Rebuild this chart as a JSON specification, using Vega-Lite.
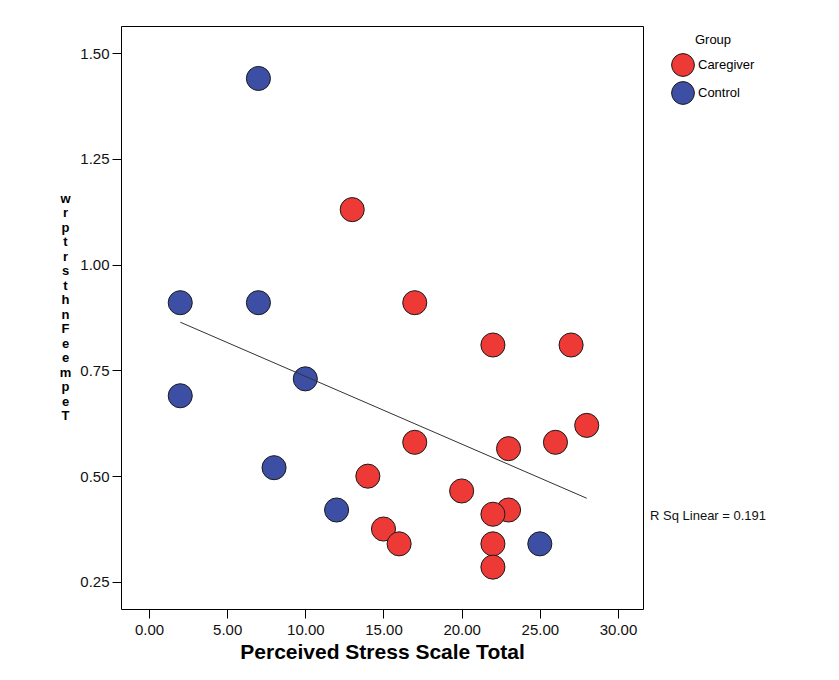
{
  "$schema": "https://vega.github.io/schema/vega-lite/v6.json",
  "autosize": {"type": "none"},
  "width": 522,
  "height": 583,
  "padding": {"left": 121, "top": 26, "right": 196, "bottom": 71},
  "background": "white",
  "config": {
    "font": "Liberation Sans",
    "view": {"stroke": "#000", "strokeWidth": 1}
  },
  "data": {
    "values": [
      {"pss": 7, "value": 1.44, "group": "Control"},
      {"pss": 2, "value": 0.91, "group": "Control"},
      {"pss": 7, "value": 0.91, "group": "Control"},
      {"pss": 10, "value": 0.73, "group": "Control"},
      {"pss": 2, "value": 0.69, "group": "Control"},
      {"pss": 8, "value": 0.52, "group": "Control"},
      {"pss": 12, "value": 0.42, "group": "Control"},
      {"pss": 25, "value": 0.34, "group": "Control"},
      {"pss": 13, "value": 1.13, "group": "Caregiver"},
      {"pss": 17, "value": 0.91, "group": "Caregiver"},
      {"pss": 22, "value": 0.81, "group": "Caregiver"},
      {"pss": 27, "value": 0.81, "group": "Caregiver"},
      {"pss": 17, "value": 0.58, "group": "Caregiver"},
      {"pss": 23, "value": 0.565, "group": "Caregiver"},
      {"pss": 26, "value": 0.58, "group": "Caregiver"},
      {"pss": 28, "value": 0.62, "group": "Caregiver"},
      {"pss": 14, "value": 0.5, "group": "Caregiver"},
      {"pss": 20, "value": 0.465, "group": "Caregiver"},
      {"pss": 23, "value": 0.42, "group": "Caregiver"},
      {"pss": 22, "value": 0.41, "group": "Caregiver"},
      {"pss": 15, "value": 0.375, "group": "Caregiver"},
      {"pss": 16, "value": 0.34, "group": "Caregiver"},
      {"pss": 22, "value": 0.34, "group": "Caregiver"},
      {"pss": 22, "value": 0.285, "group": "Caregiver"}
    ]
  },
  "layer": [
    {
      "mark": {"type": "point", "shape": "circle", "filled": true, "opacity": 1, "size": 580, "stroke": "#1a1a1a", "strokeWidth": 1},
      "encoding": {
        "x": {
          "field": "pss", "type": "quantitative",
          "scale": {"domain": [-1.79, 31.6], "nice": false, "zero": false},
          "axis": {
            "values": [0, 5, 10, 15, 20, 25, 30], "format": ".2f",
            "labelFontSize": 15, "labelColor": "#111", "labelPadding": 4,
            "tickSize": 9, "tickColor": "#000", "domain": false, "grid": false,
            "title": "Perceived Stress Scale Total", "titleFontSize": 21, "titleFontWeight": "bold",
            "titleColor": "#000", "titlePadding": 4
          }
        },
        "y": {
          "field": "value", "type": "quantitative",
          "scale": {"domain": [0.186, 1.564], "nice": false, "zero": false},
          "axis": {
            "values": [0.25, 0.5, 0.75, 1.0, 1.25, 1.5], "format": ".2f",
            "labelFontSize": 15, "labelColor": "#111", "labelPadding": 3,
            "tickSize": 9, "tickColor": "#000", "domain": false, "grid": false,
            "title": ["w", "r", "p", "t", "r", "s", "t", "h", "n", "F", "e", "e", "m", "p", "e", "T"],
            "titleAngle": 0, "titleAlign": "center", "titleBaseline": "top",
            "titleX": -56, "titleY": 166, "titleLineHeight": 14.5,
            "titleFontSize": 13, "titleFontWeight": "bold", "titleColor": "#000"
          }
        },
        "color": {
          "field": "group", "type": "nominal",
          "scale": {"domain": ["Caregiver", "Control"], "range": ["#ee3a36", "#3d4fa4"]},
          "legend": {
            "orient": "none", "legendX": 550, "legendY": 8,
            "title": "Group", "titleFontSize": 13, "titleFontWeight": "normal", "titleColor": "#000",
            "titleAnchor": "middle", "titlePadding": 6,
            "labelFontSize": 13, "labelColor": "#000", "labelOffset": 3,
            "symbolType": "circle", "symbolSize": 520, "symbolStrokeColor": "#1a1a1a", "symbolStrokeWidth": 1,
            "symbolOpacity": 1, "rowPadding": 0, "padding": 0
          }
        }
      }
    },
    {
      "transform": [{"regression": "value", "on": "pss"}],
      "mark": {"type": "line", "color": "#333", "strokeWidth": 1},
      "encoding": {
        "x": {"field": "pss", "type": "quantitative"},
        "y": {"field": "value", "type": "quantitative"}
      }
    },
    {
      "data": {"values": [{"label": "R Sq Linear = 0.191"}]},
      "mark": {"type": "text", "align": "left", "baseline": "middle", "fontSize": 13, "color": "#111", "clip": false},
      "encoding": {
        "x": {"datum": 32.05},
        "y": {"datum": 0.406},
        "text": {"field": "label"}
      }
    }
  ]
}
